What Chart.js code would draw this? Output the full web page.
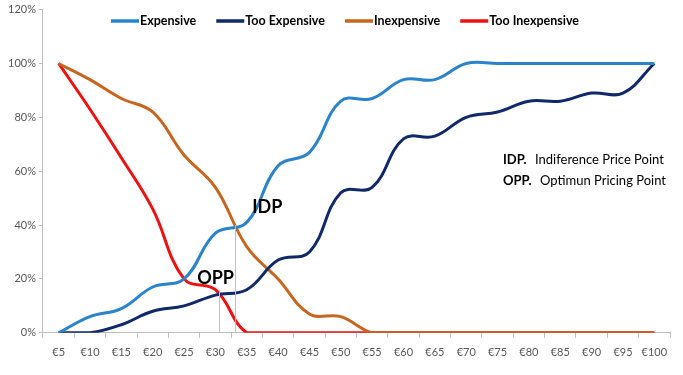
<!DOCTYPE html>
<html>
<head>
<meta charset="utf-8">
<script src="https://cdn.jsdelivr.net/npm/chart.js@4/dist/chart.umd.min.js"></script>
<style>
  html, body { margin: 0; padding: 0; background: #fff; }
  #wrap { width: 683px; height: 375px; }
</style>
</head>
<body>
<div id="wrap"><canvas id="chart"></canvas></div>
<script>
// price points and survey curves (% of respondents)
const prices = ['€5','€10','€15','€20','€25','€30','€35','€40','€45','€50','€55','€60','€65','€70','€75','€80','€85','€90','€95','€100'];
const expensive      = [0, 6, 9, 17, 20, 37, 41, 62, 67, 86, 87, 94, 94, 100, 100, 100, 100, 100, 100, 100];
const tooExpensive   = [0, 0, 3, 8, 10, 14, 16, 27, 30, 52, 54, 72, 73, 80, 82, 86, 86, 89, 89, 100];
const inexpensive    = [100, 94, 87, 82, 66, 54, 32, 20, 7, 6, 0, 0, 0, 0, 0, 0, 0, 0, 0, 0];
const tooInexpensive = [100, 83, 65, 46, 20, 16, 0, 0, 0, 0, 0, 0, 0, 0, 0, 0, 0, 0, 0, 0];
const yTicks = [0, 20, 40, 60, 80, 100, 120];

// crossing points (fractional category index, value %)
const opp = { idx: 5.12, val: 16 };
const idp = { idx: 5.63, val: 40 };

const FONT = 'Lato, "Open Sans", sans-serif';

// legend drawn over the plot, centred near the top
const topLegend = {
  id: 'topLegend',
  afterDraw(chart) {
    const { ctx } = chart;
    ctx.save();
    ctx.font = 'bold 12.5px ' + FONT;
    ctx.textBaseline = 'middle';
    ctx.textAlign = 'left';
    const items = chart.data.datasets.map(d => ({ d, w: 29 + ctx.measureText(d.label).width }));
    const gap = 20;
    const total = items.reduce((s, it) => s + it.w, 0) + gap * (items.length - 1);
    let x = 345 - total / 2;
    const y = 21;
    items.forEach(it => {
      ctx.strokeStyle = it.d.borderColor;
      ctx.lineWidth = 3.5;
      ctx.beginPath();
      ctx.moveTo(x, y);
      ctx.lineTo(x + 28, y);
      ctx.stroke();
      ctx.fillStyle = '#000';
      ctx.fillText(it.d.label, x + 29, y);
      x += it.w + gap;
    });
    ctx.restore();
  }
};

const markers = {
  id: 'markers',
  afterDatasetsDraw(chart) {
    const { ctx, scales: { x, y } } = chart;
    ctx.save();
    ctx.strokeStyle = '#a9c6e2';
    ctx.lineWidth = 1;
    [opp, idp].forEach(p => {
      const px = Math.round(x.getPixelForValue(p.idx)) + 0.5;
      ctx.beginPath();
      ctx.moveTo(px, y.getPixelForValue(p.val));
      ctx.lineTo(px, y.getPixelForValue(0));
      ctx.stroke();
    });
    ctx.fillStyle = '#000';
    ctx.font = 'bold 18px ' + FONT;
    ctx.textBaseline = 'middle';
    ctx.textAlign = 'left';
    ctx.fillText('IDP', x.getPixelForValue(idp.idx) + 17, y.getPixelForValue(idp.val) - 18);
    ctx.fillText('OPP', x.getPixelForValue(opp.idx) - 22, y.getPixelForValue(opp.val) - 12);

    // side note
    ctx.font = 'bold 13px ' + FONT;
    ctx.fillText('IDP.', 503, 160);
    ctx.fillText('OPP.', 503, 181);
    ctx.font = '13px ' + FONT;
    ctx.fillText('Indiference Price Point', 535, 160);
    ctx.fillText('Optimun Pricing Point', 540, 181);
    ctx.restore();
  }
};

const line = (label, data, color) => ({
  label, data,
  borderColor: color, backgroundColor: color,
  borderWidth: 3, pointRadius: 0, tension: 0.4, fill: false
});

new Chart(document.getElementById('chart'), {
  type: 'line',
  data: {
    labels: prices,
    datasets: [
      line('Expensive', expensive, '#2a84cc'),
      line('Too Expensive', tooExpensive, '#10296a'),
      line('Inexpensive', inexpensive, '#c8651f'),
      line('Too Inexpensive', tooInexpensive, '#f01010')
    ]
  },
  options: {
    responsive: true,
    maintainAspectRatio: false,
    animation: false,
    layout: { padding: { left: 5, right: 13, top: 4, bottom: 8 } },
    plugins: {
      legend: { display: false },
      tooltip: { enabled: false }
    },
    scales: {
      x: {
        offset: true,
        grid: { offset: true, drawOnChartArea: false, tickLength: 5, color: '#bfbfbf' },
        border: { color: '#bfbfbf' },
        ticks: { color: '#595959', font: { family: FONT, size: 11 }, maxRotation: 0, autoSkip: false, padding: 8 }
      },
      y: {
        min: 0, max: 120,
        afterBuildTicks: s => { s.ticks = yTicks.map(v => ({ value: v })); },
        grid: { drawOnChartArea: false, tickLength: 4, color: '#bfbfbf' },
        border: { color: '#bfbfbf' },
        ticks: { color: '#595959', font: { family: FONT, size: 11 }, padding: 3, callback: v => v + '%' }
      }
    }
  },
  plugins: [markers, topLegend]
});
</script>
</body>
</html>
